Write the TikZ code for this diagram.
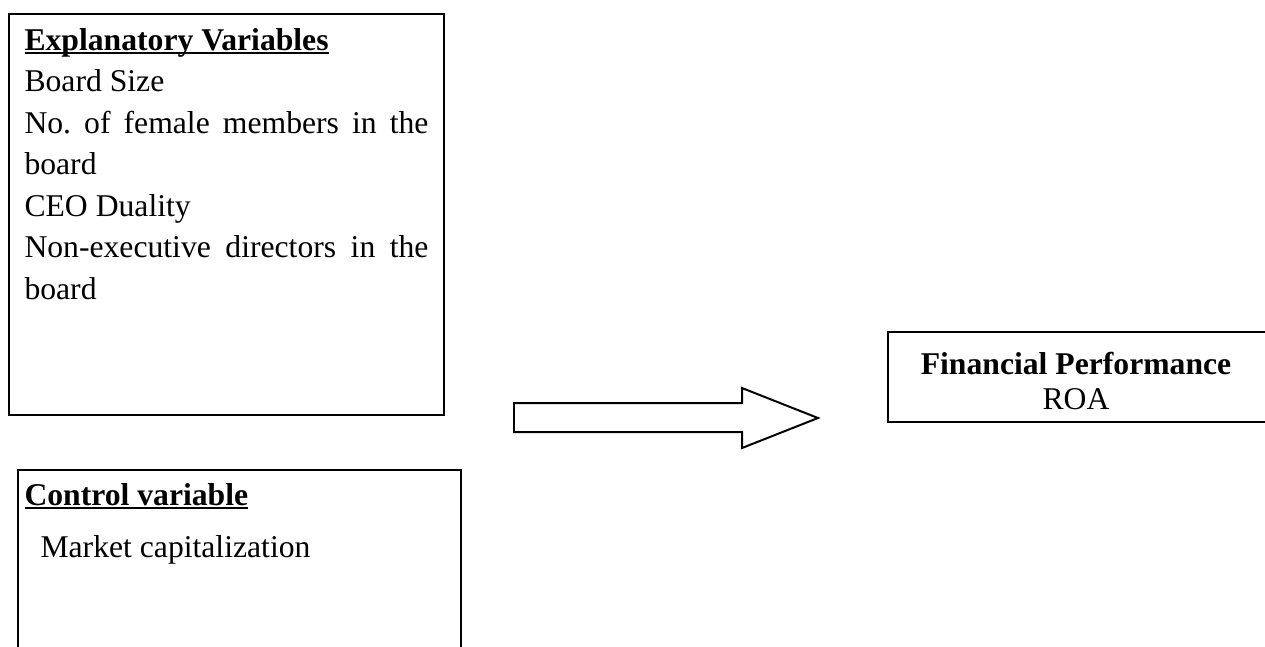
\documentclass[tikz,border=0pt]{standalone}
\usepackage{fontspec}
\setmainfont{Liberation Serif}
\usetikzlibrary{positioning}
\usetikzlibrary{fit}
\hbadness=10000
\frenchspacing
\newlength{\ulwd}
\newcommand{\ulhead}[1]{\settowidth{\ulwd}{\textbf{#1}}\textbf{#1}\hspace{-\ulwd}\rule[-1.3pt]{\ulwd}{0.75pt}}
\newcommand{\firstline}{\rule{0pt}{10pt}}
\tikzset{
	every node/.style = {font=\fontsize{12}{15.7}\selectfont},
	box/.style = {draw, line width=0.9pt, inner sep=0pt},
	txt/.style = {inner sep=0pt, anchor=north west, yshift=10pt}
}

\begin{document}
\begin{tikzpicture}[x=0.379pt, y=-0.379pt]
	\useasboundingbox (0,0) rectangle (1265,646);
	\clip (0,0) rectangle (1265,646);
	
	% explanatory variables
	\node[box, fit={(9,14) (444,415)}] (explbox) {};
	\node[txt, text width=153.1pt, align=justify] (expltext) at (24,50) {\firstline\ulhead{Explanatory Variables}\\
		Board Size\\
		No. of female members in the\linebreak board\\
		CEO Duality\\
		Non-executive directors in the\linebreak board};
	
	% control variable
	\node[box, fit={(18,470) (461,670)}] (ctrlbox) {};
	\node[txt] (ctrltitle) at (24,505) {\firstline\ulhead{Control variable}};
	\node[txt] (ctrltext) at (40,557) {\firstline Market capitalization};
	
	% block arrow
	\draw[line width=0.75pt] (514,403) -- (742,403) -- (742,388) -- (818,418) -- (742,448) -- (742,432) -- (514,432) -- cycle;
	
	% financial performance
	\node[box, fit={(888,332) (1280,422)}] (perfbox) {};
	\node[anchor=base, inner sep=0pt] (perftitle) at (1076,374) {\textbf{Financial Performance}};
	\node[anchor=base, inner sep=0pt] (perftext) at (1076,409) {ROA};
\end{tikzpicture}
\end{document}
